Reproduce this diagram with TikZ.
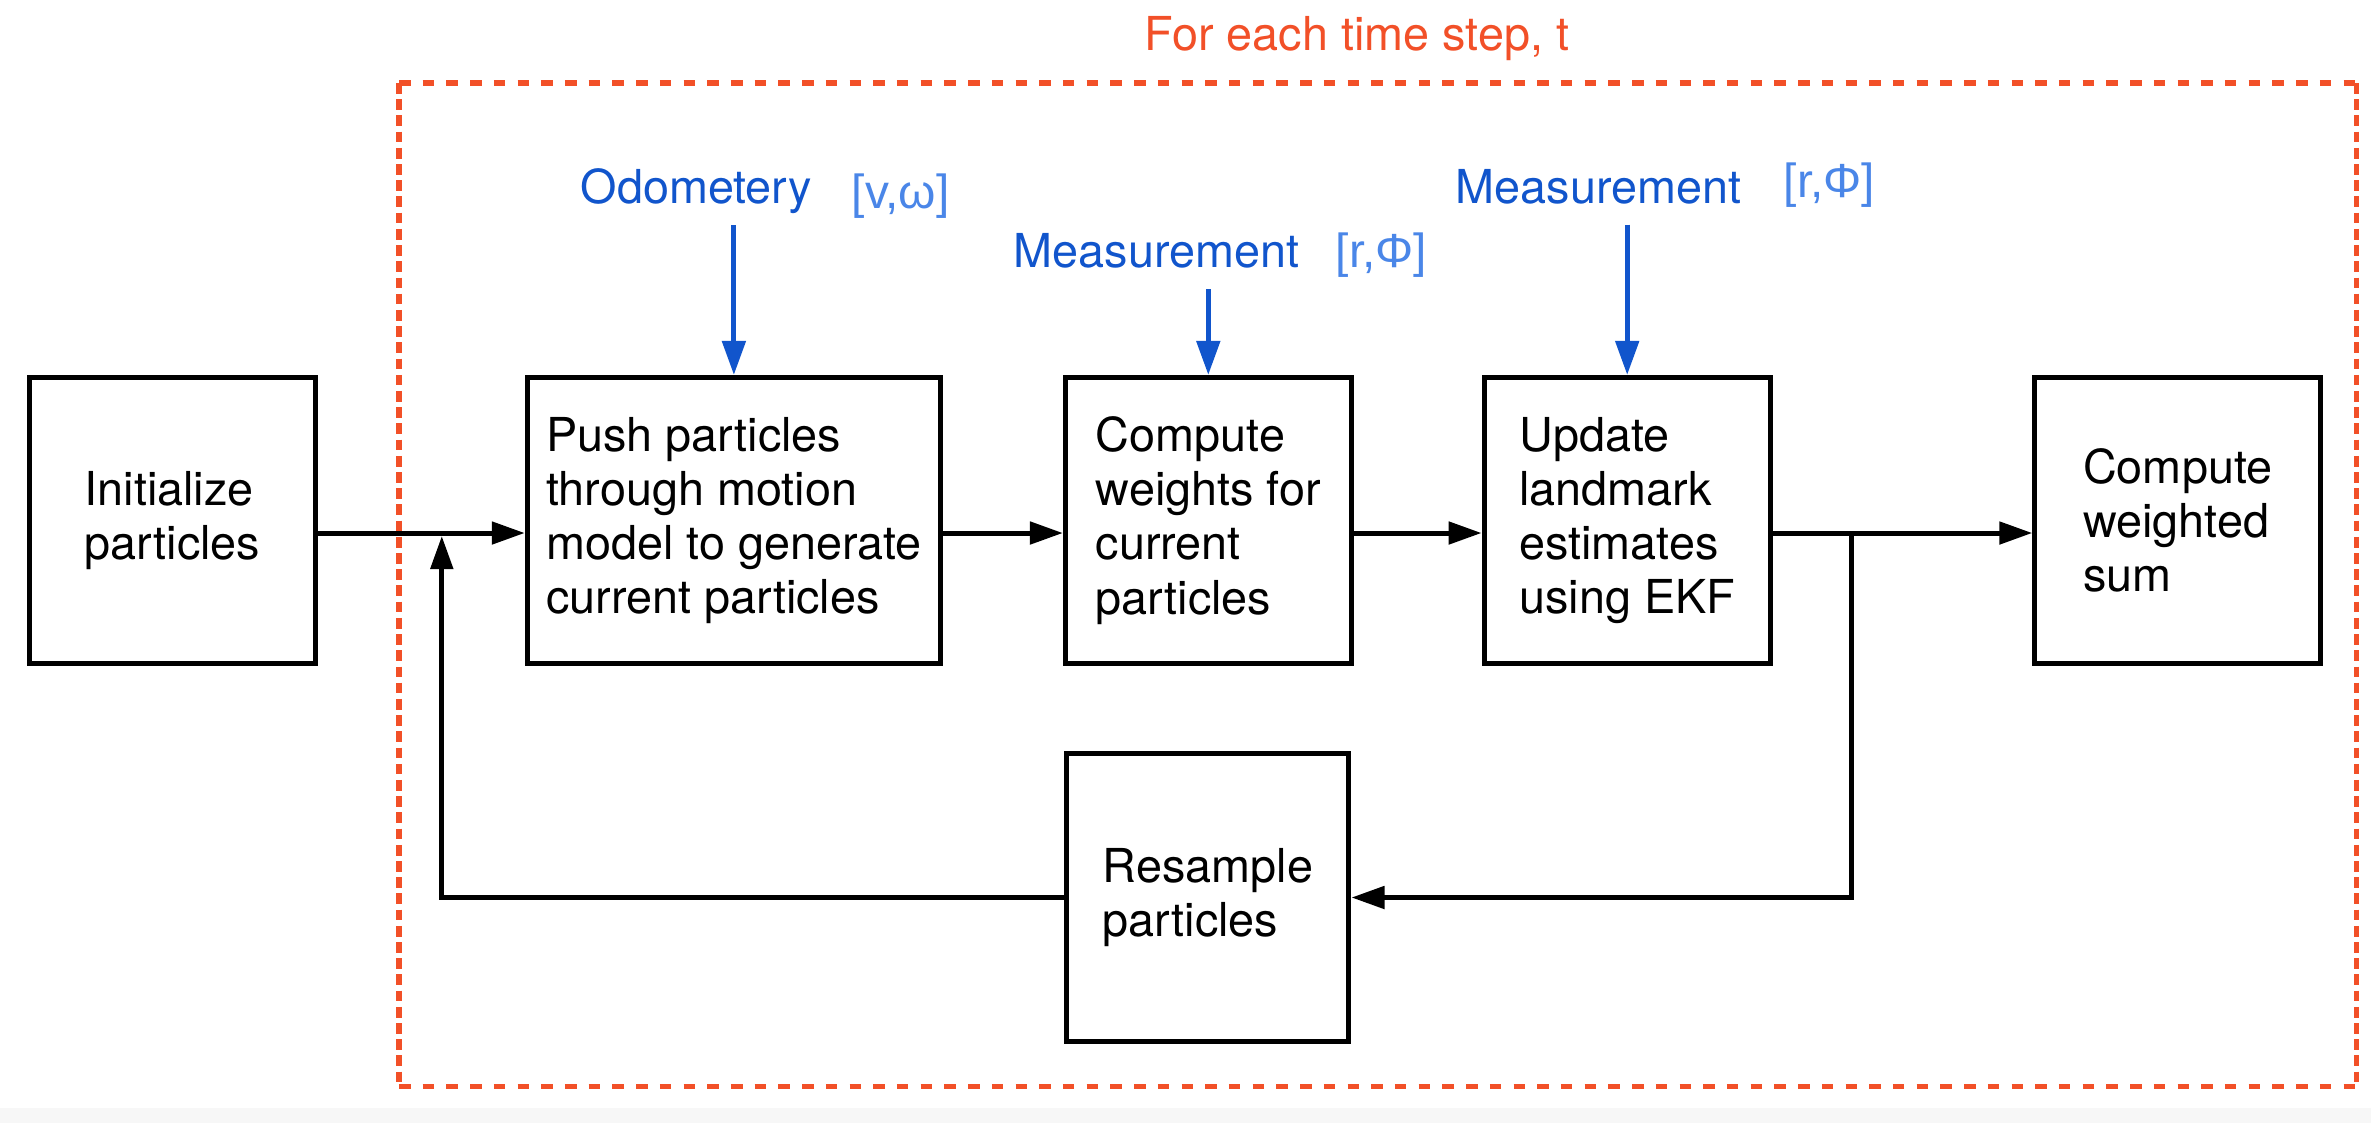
\documentclass[tikz,border=0pt]{standalone}
\usepackage{fontspec}
\setmainfont{TeX Gyre Heros}
\newfontfamily\greekfont{Liberation Sans}
\usetikzlibrary{arrows.meta}
\definecolor{dashred}{RGB}{242,80,40}
\definecolor{labblue}{RGB}{17,85,204}
\definecolor{brkblue}{RGB}{74,134,232}
\begin{document}
\begin{tikzpicture}[x=0.01cm, y=-0.01cm,
  box/.style={draw, line width=0.05cm, align=left, inner sep=0pt,
    font=\fontsize{13.3pt}{15.4pt}\selectfont, minimum height=2.86cm},
  flow/.style={line width=0.05cm, -{Triangle[length=0.33cm,width=0.22cm]}},
  inarrow/.style={labblue, line width=0.05cm, -{Triangle[length=0.34cm,width=0.23cm]}},
  lab/.style={labblue, font=\fontsize{13.3pt}{15.4pt}\selectfont, inner sep=0pt, anchor=base west},
  brk/.style={brkblue, font=\greekfont\fontsize{13.6pt}{16pt}\selectfont, inner sep=0pt, anchor=base west},
  frameh/.style={dashred, line width=0.054cm, dash pattern=on 0.115cm off 0.122cm},
  framev/.style={dashred, line width=0.054cm, dash pattern=on 0.107cm off 0.055cm},
]
% background
\fill[white] (0,0) rectangle (2371,1123);
\fill[gray!6] (0,1108) rectangle (2371,1123);
\useasboundingbox (0,0) rectangle (2371,1123);

% dashed frame
\draw[frameh] (399,83) -- (2356.5,83);
\draw[frameh] (399,1086.5) -- (2356.5,1086.5);
\draw[framev] (399,83) -- (399,1086.5);
\draw[framev] (2356.5,83) -- (2356.5,1086.5);
\node[lab, text=dashred] (title) at (1144,50) {For each time step, t};

% boxes
\node[box, minimum width=2.86cm] (init) at (172.5,520.5) {Initialize\\particles};
\node[box, minimum width=4.13cm] (push) at (733.9,520.5) {Push particles\\through motion\\model to generate\\current particles};
\node[box, minimum width=2.856cm] (weights) at (1208.3,520.5) {Compute\\weights for\\current\\particles};
\node[box, minimum width=2.86cm] (update) at (1627.2,520.5) {Update\\landmark\\estimates\\using EKF};
\node[box, minimum width=2.856cm] (wsum) at (2177.7,520.5) {Compute\\weighted\\sum};
\node[box, minimum width=2.82cm, minimum height=2.87cm] (resample) at (1207.9,897.5) {Resample\\particles};

% input labels
\node[lab] (odo) at (580,203.6) {Odometery};
\node[brk] (odob) at (851,208) {[v,ω]};
\node[lab] (meas1) at (1013,267.9) {Measurement};
\node[brk] (meas1b) at (1335,267.8) {[r,Φ]};
\node[lab] (meas2) at (1455,203.6) {Measurement};
\node[brk] (meas2b) at (1783,197.3) {[r,Φ]};

\coordinate (odoS) at (733.9,225);
\coordinate (meas1S) at (1208.3,289);
\coordinate (meas2S) at (1627.2,224.6);
\draw[inarrow] (odoS) -- (push.north);
\draw[inarrow] (meas1S) -- (weights.north);
\draw[inarrow] (meas2S) -- (update.north);

% connectors
\coordinate (mainy) at (0,533);
\coordinate (branch) at (1851.4,533);
\coordinate (retx) at (441.8,536);
\draw[flow] (init.east |- mainy) -- (push.west |- mainy);
\draw[flow] (push.east |- mainy) -- (weights.west |- mainy);
\draw[flow] (weights.east |- mainy) -- (update.west |- mainy);
\draw[flow] (update.east |- mainy) -- (wsum.west |- mainy);
\draw[flow] (branch) |- (resample.east);
\draw[flow] (resample.west) -| (retx);
\end{tikzpicture}
\end{document}
